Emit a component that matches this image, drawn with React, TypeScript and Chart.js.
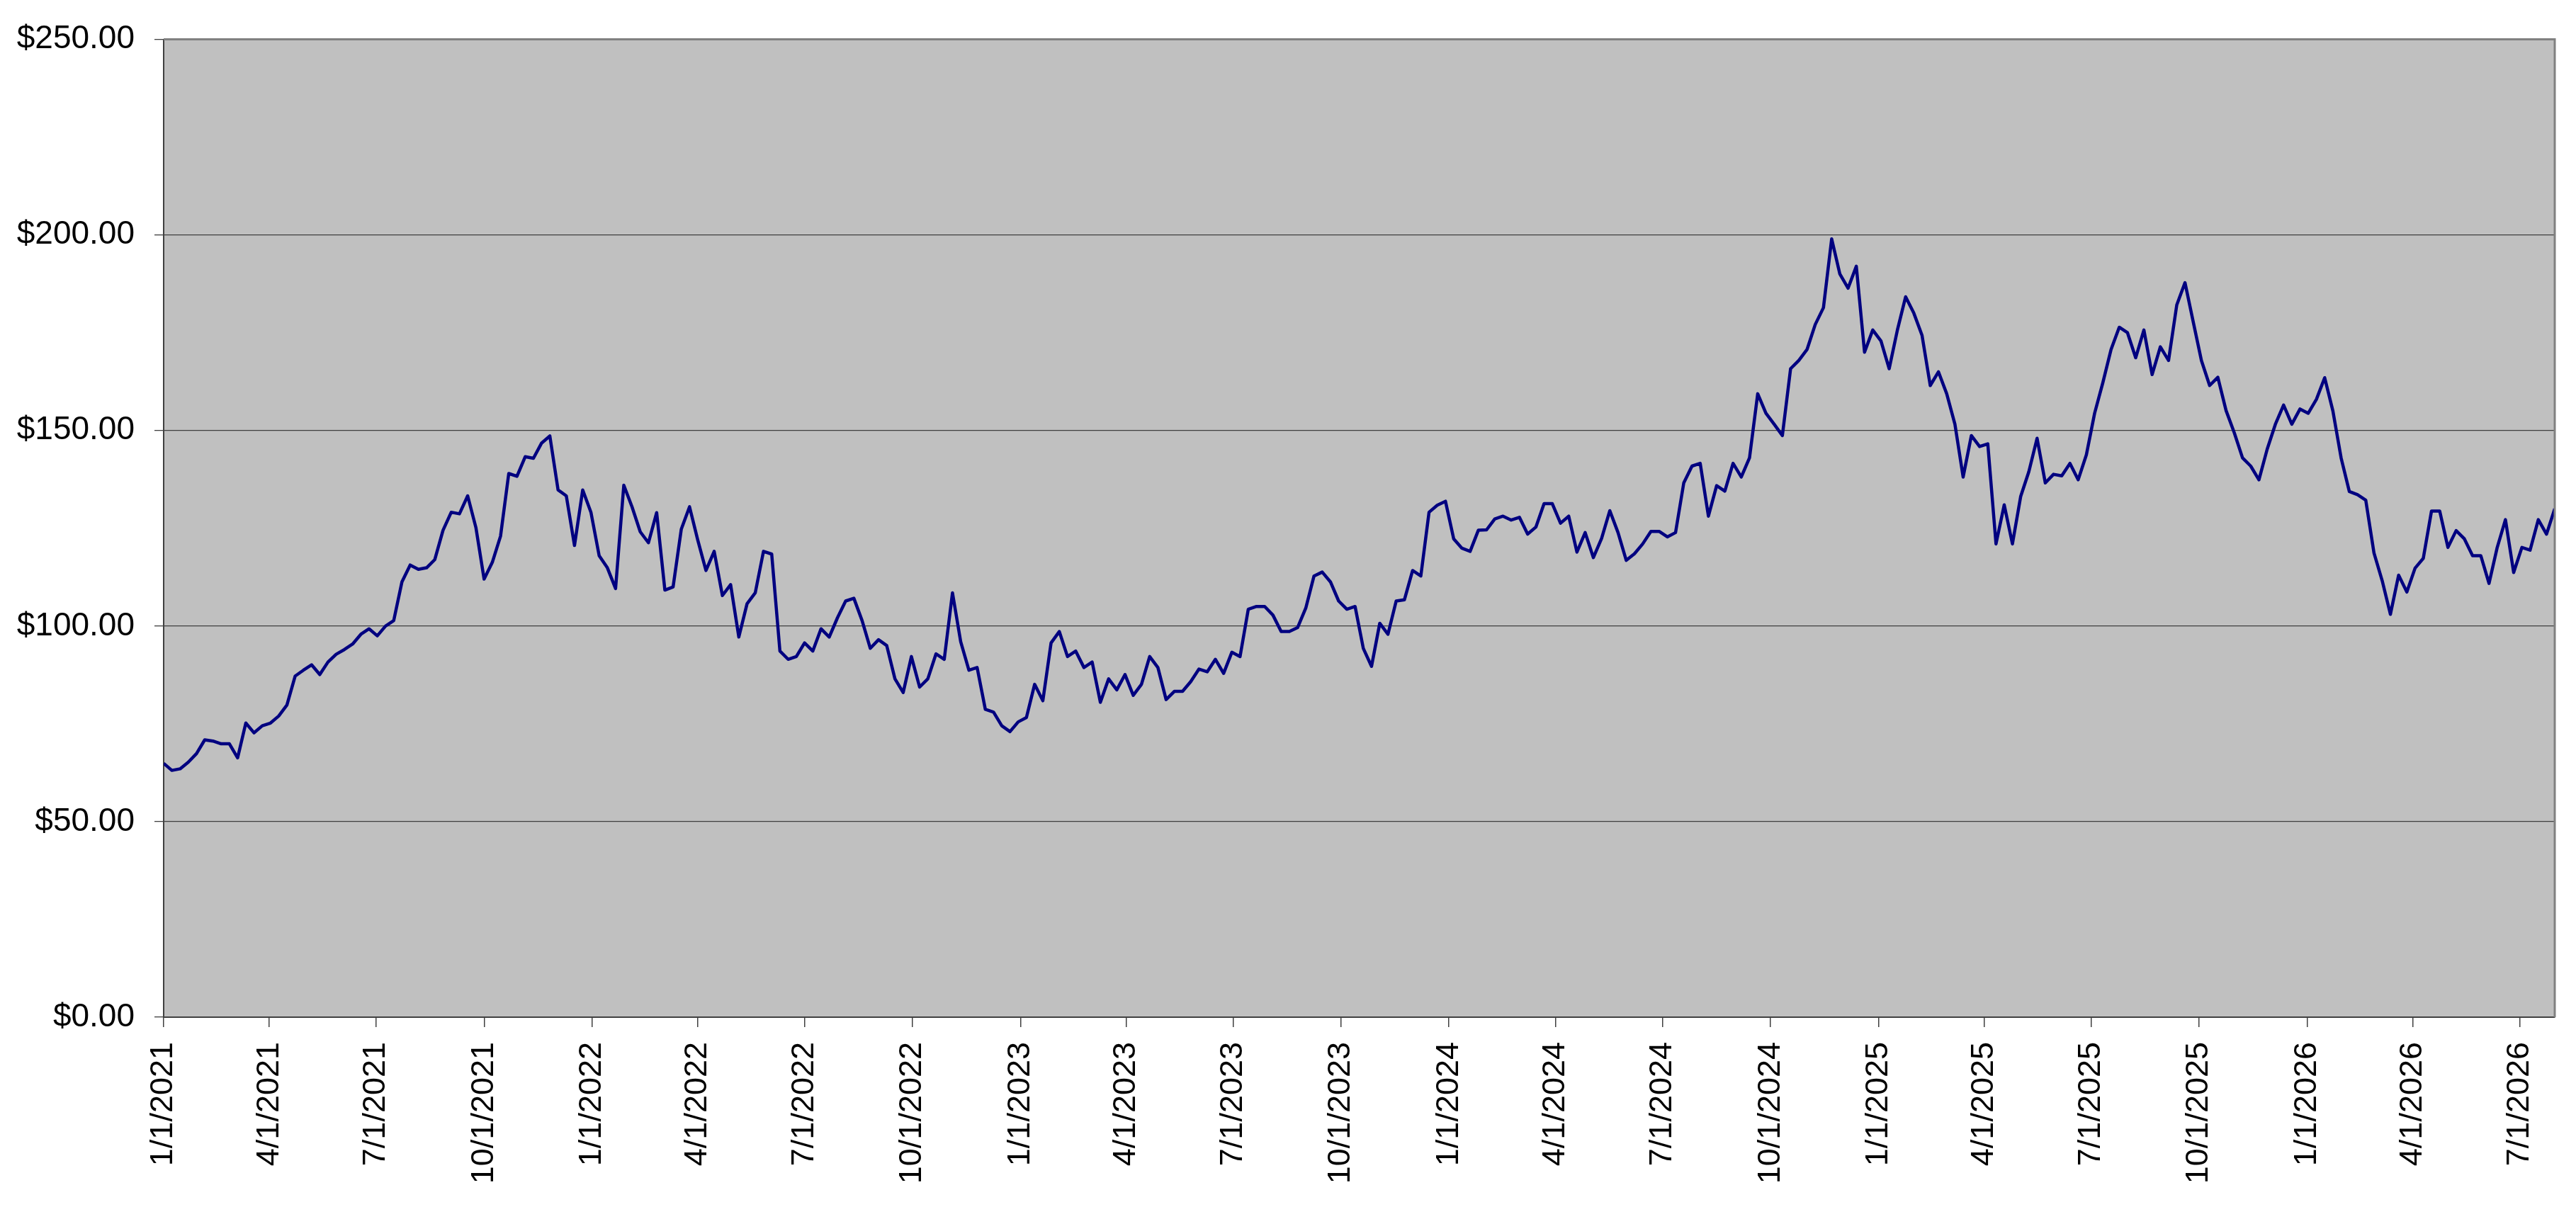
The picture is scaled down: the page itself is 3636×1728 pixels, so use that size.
import { useEffect, useRef } from "react";
import { Chart, registerables } from "chart.js";

Chart.register(...registerables);

// weekly closing prices, first point on START_DATE
const START_DATE = "1/1/2021";
const STEP_DAYS = 7;

const TICK_DATES = [
  "1/1/2021", "4/1/2021", "7/1/2021", "10/1/2021",
  "1/1/2022", "4/1/2022", "7/1/2022", "10/1/2022",
  "1/1/2023", "4/1/2023", "7/1/2023", "10/1/2023",
  "1/1/2024", "4/1/2024", "7/1/2024", "10/1/2024",
  "1/1/2025", "4/1/2025", "7/1/2025", "10/1/2025",
  "1/1/2026", "4/1/2026", "7/1/2026",
];

const PRICES_2021 = [
  64.9, 63.1, 63.5, 65.2, 67.4, 70.9, 70.6, 69.9, 69.9, 66.3, 75.2, 72.7, 74.5,
  75.2, 77, 79.8, 87.2, 88.7, 90.1, 87.6, 90.8, 92.8, 94, 95.4, 97.9, 99.3,
  97.5, 100, 101.4, 111.3, 115.6, 114.5, 114.9, 117, 124.5, 129.1, 128.7, 133.3,
  125.2, 112, 116.3, 123, 139, 138.3, 143.3, 142.9, 146.8, 148.6, 134.8, 133.3,
  120.6, 134.8,
];

const PRICES_2022 = [
  129.1, 118, 114.9, 109.6, 136, 130.5, 124.1, 121.3, 129, 109.2, 110, 124.8,
  130.5, 122, 114.2, 119.1, 107.8, 110.6, 97.2, 105.7, 108.5, 119.1, 118.4, 93.6,
  91.5, 92.2, 95.7, 93.6, 99.3, 97.2, 102.1, 106.4, 107.1, 101.4, 94.3, 96.5, 95,
  86.5, 83, 92.2, 84.4, 86.5, 92.9, 91.5, 108.5, 96, 88.7, 89.4, 78.7, 78, 74.5,
  73,
];

const PRICES_2023 = [
  75.5, 76.6, 85.1, 80.9, 95.7, 98.6, 92.2, 93.6, 89.4, 90.8, 80.5, 86.5, 83.7,
  87.6, 82.3, 85.1, 92.2, 89.4, 81.2, 83.3, 83.3, 85.8, 89, 88.3, 91.5, 87.9,
  93.3, 92.2, 104.3, 105, 105, 102.8, 98.6, 98.6, 99.6, 104.6, 112.8, 113.8,
  111.3, 106.4, 104.3, 105, 94.3, 89.7, 100.7, 97.9, 106.4, 106.7, 114.2, 112.8,
  129.1, 130.9,
];

const PRICES_2024 = [
  131.9, 122.3, 119.9, 119.1, 124.5, 124.6, 127.4, 128.1, 127.1, 127.8, 123.5,
  125.3, 131.3, 131.3, 126.3, 128.1, 118.9, 123.9, 117.5, 122.4, 129.5, 123.9,
  116.8, 118.5, 121, 124.2, 124.2, 122.8, 123.9, 136.6, 140.9, 141.6, 128.1,
  135.9, 134.5, 141.6, 138.1, 143, 159.4, 154.4, 151.6, 148.7, 165.8, 167.9,
  170.7, 177.1, 181.4, 199, 190, 186.4, 192, 170,
];

const PRICES_2025 = [
  175.7, 172.9, 165.8, 175.7, 184.2, 180, 174.3, 161.5, 165, 159.4, 151.6, 138.1,
  148.7, 145.9, 146.6, 121, 131, 121, 133.1, 139.5, 148, 136.6, 138.8, 138.4,
  141.6, 137.4, 143.8, 154.4, 162.2, 170.7, 176.4, 175, 168.6, 175.7, 164.3,
  171.4, 167.9, 182.1, 187.8, 177.8, 167.9, 161.5, 163.6, 155.1, 149.4, 143,
  140.9, 137.4, 145.2, 151.6, 156.5, 151.6,
];

const PRICES_2026 = [
  155.5, 154.4, 158, 163.5, 155, 143, 134.4, 133.6, 132.2, 118.7, 111.6, 103,
  113, 108.7, 114.8, 117.3, 129.4, 129.4, 120.1, 124.4, 122.3, 118, 118, 110.9,
  120.1, 127.2, 113.7, 120.1, 119.4, 127.2, 123.5, 130,
];

const PRICES = [
  ...PRICES_2021, ...PRICES_2022, ...PRICES_2023,
  ...PRICES_2024, ...PRICES_2025, ...PRICES_2026,
];

const FONT = "'Liberation Sans', Arial, Helvetica, sans-serif";

function dayOffset(label: string) {
  const [m, d, y] = label.split("/").map(Number);
  const [m0, d0, y0] = START_DATE.split("/").map(Number);
  return Math.round((Date.UTC(y, m - 1, d) - Date.UTC(y0, m0 - 1, d0)) / 86400000);
}

const plotFrame = {
  id: "plotFrame",
  beforeDraw(chart: any) {
    const { ctx, chartArea: a } = chart;
    ctx.save();
    ctx.fillStyle = "#c0c0c0";
    ctx.fillRect(a.left, a.top, a.right - a.left, a.bottom - a.top);
    ctx.restore();
  },
  afterDraw(chart: any) {
    const { ctx, chartArea: a } = chart;
    ctx.save();
    ctx.strokeStyle = "#808080";
    ctx.lineWidth = 3;
    ctx.beginPath();
    ctx.moveTo(a.left, a.top);
    ctx.lineTo(a.right, a.top);
    ctx.lineTo(a.right, a.bottom);
    ctx.stroke();
    ctx.restore();
  },
};

export default function App() {
  const canvasRef = useRef<HTMLCanvasElement>(null);

  useEffect(() => {
    if (!canvasRef.current) return;

    const tickDays = TICK_DATES.map(dayOffset);
    const points = PRICES.map((y, i) => ({ x: i * STEP_DAYS, y }));
    const lastDay = (PRICES.length - 1) * STEP_DAYS;

    const chart = new Chart(canvasRef.current, {
      type: "line",
      data: {
        datasets: [
          {
            label: "Price",
            data: points,
            borderColor: "#000080",
            borderWidth: 4.5,
            borderJoinStyle: "round",
            pointRadius: 0,
            tension: 0,
            fill: false,
          },
        ],
      },
      options: {
        responsive: true,
        maintainAspectRatio: false,
        animation: false,
        layout: { padding: { top: 44, right: 30, left: 0, bottom: 0 } },
        plugins: { legend: { display: false }, tooltip: { enabled: false } },
        scales: {
          x: {
            type: "linear",
            min: 0,
            max: lastDay,
            afterBuildTicks: (scale: any) => {
              scale.ticks = tickDays.map((v) => ({ value: v }));
            },
            afterFit: (scale: any) => {
              scale.height = 292;
            },
            ticks: {
              autoSkip: false,
              minRotation: 90,
              maxRotation: 90,
              padding: 21,
              color: "#000000",
              font: { family: FONT, size: 45 },
              callback: (value: any) => {
                const i = tickDays.indexOf(Number(value));
                return i >= 0 ? TICK_DATES[i] : "";
              },
            },
            grid: {
              drawOnChartArea: false,
              drawTicks: true,
              tickLength: 14,
              color: "#404040",
              lineWidth: 1.5,
            },
            border: { color: "#404040", width: 2 },
          },
          y: {
            min: 0,
            max: 250,
            afterFit: (scale: any) => {
              scale.width = 231;
            },
            ticks: {
              stepSize: 50,
              padding: 28,
              color: "#000000",
              font: { family: FONT, size: 46 },
              callback: (value: any) => "$" + Number(value).toFixed(2),
            },
            grid: {
              color: "#3f3f3f",
              lineWidth: 1.3,
              tickLength: 13,
            },
            border: { color: "#404040", width: 2 },
          },
        },
      },
      plugins: [plotFrame],
    });

    return () => chart.destroy();
  }, []);

  return (
    <div style={{ position: "fixed", left: 0, top: 0, width: "100vw", height: "100vh", background: "#ffffff" }}>
      <canvas ref={canvasRef} />
    </div>
  );
}
